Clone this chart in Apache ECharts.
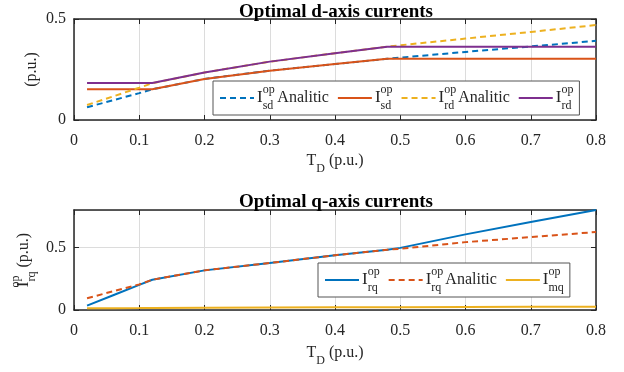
<!DOCTYPE html>
<html>
<head>
<meta charset="utf-8">
<script src="https://cdn.jsdelivr.net/npm/echarts@6/dist/echarts.min.js"></script>
<style>
  html, body { margin: 0; padding: 0; background: #fff; }
  #main { width: 624px; height: 372px; }
</style>
</head>
<body>
<div id="main"></div>
<script>
// T_D (p.u.) sample points shared by every curve
var tD = [0.02, 0.06, 0.1, 0.12, 0.2, 0.3, 0.4, 0.48, 0.5, 0.6, 0.7, 0.8]

// d-axis currents (top plot)
var isdAnalitic = [0.063, 0.098, 0.133, 0.152, 0.203, 0.244, 0.277, 0.303, 0.309, 0.337, 0.364, 0.392]
var isd = [0.152, 0.152, 0.152, 0.152, 0.203, 0.244, 0.277, 0.303, 0.303, 0.303, 0.303, 0.303]
var irdAnalitic = [0.074, 0.117, 0.160, 0.182, 0.235, 0.289, 0.330, 0.363, 0.370, 0.403, 0.436, 0.470]
var ird = [0.183, 0.183, 0.183, 0.183, 0.235, 0.289, 0.330, 0.363, 0.363, 0.363, 0.363, 0.363]

// q-axis currents (bottom plot)
var irq = [0.035, 0.118, 0.201, 0.242, 0.317, 0.376, 0.438, 0.482, 0.497, 0.605, 0.704, 0.800]
var irqAnalitic = [0.094, 0.150, 0.205, 0.242, 0.317, 0.376, 0.438, 0.482, 0.490, 0.543, 0.583, 0.624]
var imq = [0.014, 0.015, 0.016, 0.017, 0.018, 0.020, 0.022, 0.023, 0.023, 0.025, 0.026, 0.027]

var font = 'Liberation Serif'
var blue = '#0072BD', orange = '#D95319', yellow = '#EDB120', purple = '#7E2F8E'

var rich = {
  i: { fontFamily: font, fontSize: 17, lineHeight: 28, color: '#262626' },
  sup: { fontFamily: font, fontSize: 12, lineHeight: 13, verticalAlign: 'top', width: 0.01, color: '#262626' },
  sub: { fontFamily: font, fontSize: 12, lineHeight: 13, verticalAlign: 'bottom', color: '#262626' },
  t: { fontFamily: font, fontSize: 16, lineHeight: 28, color: '#262626' }
}

var labels = {
  isdAn: '{i|I}{sup|op}{sub|sd}{t| Analitic}',
  isd: '{i|I}{sup|op}{sub|sd}',
  irdAn: '{i|I}{sup|op}{sub|rd}{t| Analitic}',
  ird: '{i|I}{sup|op}{sub|rd}',
  irq: '{i|I}{sup|op}{sub|rq}',
  irqAn: '{i|I}{sup|op}{sub|rq}{t| Analitic}',
  imq: '{i|I}{sup|op}{sub|mq}'
}

function pairs (ys) {
  return tD.map(function (x, k) { return [x, ys[k]] })
}

function fmt (v) {
  return v === 0 ? '0' : v.toFixed(1)
}

function mainX (grid, gap) {
  return {
    type: 'value', gridIndex: grid, min: 0, max: 0.8, interval: 0.1,
    name: '{t|T}{sub|D}{t| (p.u.)}', nameLocation: 'middle', nameGap: gap,
    nameTextStyle: { rich: rich },
    axisLine: { onZero: false, lineStyle: { color: '#262626', width: 1.5 } },
    axisTick: { inside: true, length: 5, lineStyle: { color: '#262626' } },
    axisLabel: { fontFamily: font, fontSize: 16, color: '#262626', margin: 13, formatter: fmt },
    splitLine: { show: true, lineStyle: { color: '#dcdcdc', width: 1 } }
  }
}

function boxX (grid) {
  return {
    type: 'value', gridIndex: grid, position: 'top', min: 0, max: 0.8, interval: 0.1,
    axisLine: { onZero: false, lineStyle: { color: '#262626', width: 1.5 } },
    axisTick: { inside: true, length: 5, lineStyle: { color: '#262626' } },
    axisLabel: { show: false }, splitLine: { show: false }
  }
}

function boxY (grid, max) {
  return {
    type: 'value', gridIndex: grid, position: 'right', min: 0, max: max, interval: 0.5,
    axisLine: { show: true, onZero: false, lineStyle: { color: '#262626', width: 1.5 } },
    axisTick: { show: true, inside: true, length: 5, lineStyle: { color: '#262626' } },
    axisLabel: { show: false }, splitLine: { show: false }
  }
}

function line (name, ys, color, dashed, xi, yi) {
  return {
    name: name, type: 'line', xAxisIndex: xi, yAxisIndex: yi,
    symbol: 'none', animation: false,
    lineStyle: { color: color, width: 2, type: dashed ? [6, 4] : 'solid' },
    itemStyle: { color: color },
    data: pairs(ys)
  }
}

var legendBase = {
  orient: 'horizontal', itemWidth: 34, itemHeight: 10, itemGap: 8,
  padding: [3, 6], borderColor: '#555', borderWidth: 1, borderRadius: 0,
  backgroundColor: '#fff',
  itemStyle: { opacity: 0 },
  formatter: function (name) { return labels[name] },
  textStyle: { rich: rich, padding: [0, 0, 0, -2] }
}

var myChart = echarts.init(document.getElementById('main'))
var option = {
  backgroundColor: '#fff',
  animation: false,
  title: [
    { text: 'Optimal d-axis currents', left: 331, top: -2, textAlign: 'center',
      textStyle: { fontFamily: font, fontSize: 19, fontWeight: 'bold', color: '#000' } },
    { text: 'Optimal q-axis currents', left: 331, top: 188, textAlign: 'center',
      textStyle: { fontFamily: font, fontSize: 19, fontWeight: 'bold', color: '#000' } }
  ],
  grid: [
    { left: 74, top: 19, width: 522, height: 101 },
    { left: 74, top: 210, width: 522, height: 100 }
  ],
  legend: [
    Object.assign({}, legendBase, { left: 213, top: 81, data: ['isdAn', 'isd', 'irdAn', 'ird'] }),
    Object.assign({}, legendBase, { left: 318, top: 263, data: ['irq', 'irqAn', 'imq'] })
  ],
  xAxis: [mainX(0, 27), boxX(0), mainX(1, 29), boxX(1)],
  yAxis: [
    {
      type: 'value', gridIndex: 0, min: 0, max: 0.5, interval: 0.5,
      name: '(p.u.)', nameLocation: 'middle', nameGap: 34, nameRotate: 90, nameMoveOverlap: false,
      nameTextStyle: { fontFamily: font, fontSize: 16, color: '#262626' },
      axisLine: { show: true, onZero: false, lineStyle: { color: '#262626', width: 1.5 } },
      axisTick: { show: true, inside: true, length: 5, lineStyle: { color: '#262626' } },
      axisLabel: { fontFamily: font, fontSize: 16, color: '#262626', margin: 8, formatter: fmt },
      splitLine: { show: true, lineStyle: { color: '#dcdcdc', width: 1 } }
    },
    boxY(0, 0.5),
    {
      type: 'value', gridIndex: 1, min: 0, max: 0.8, interval: 0.5,
      name: '{i|I}{sup|op}{sub|rq}{t| (p.u.)}', nameLocation: 'middle', nameGap: 36, nameRotate: 90, nameMoveOverlap: false,
      nameTextStyle: { rich: rich },
      axisLine: { show: true, onZero: false, lineStyle: { color: '#262626', width: 1.5 } },
      axisTick: { show: true, inside: true, length: 5, lineStyle: { color: '#262626' } },
      axisLabel: { fontFamily: font, fontSize: 16, color: '#262626', margin: 8, formatter: fmt, showMaxLabel: false },
      splitLine: { show: true, lineStyle: { color: '#dcdcdc', width: 1 } }
    },
    boxY(1, 0.8)
  ],
  series: [
    line('isdAn', isdAnalitic, blue, true, 0, 0),
    line('isd', isd, orange, false, 0, 0),
    line('irdAn', irdAnalitic, yellow, true, 0, 0),
    line('ird', ird, purple, false, 0, 0),
    line('irq', irq, blue, false, 2, 2),
    line('irqAn', irqAnalitic, orange, true, 2, 2),
    line('imq', imq, yellow, false, 2, 2)
  ]
}
option && myChart.setOption(option)
window.addEventListener('resize', function () {
  myChart.resize()
})
</script>
</body>
</html>
